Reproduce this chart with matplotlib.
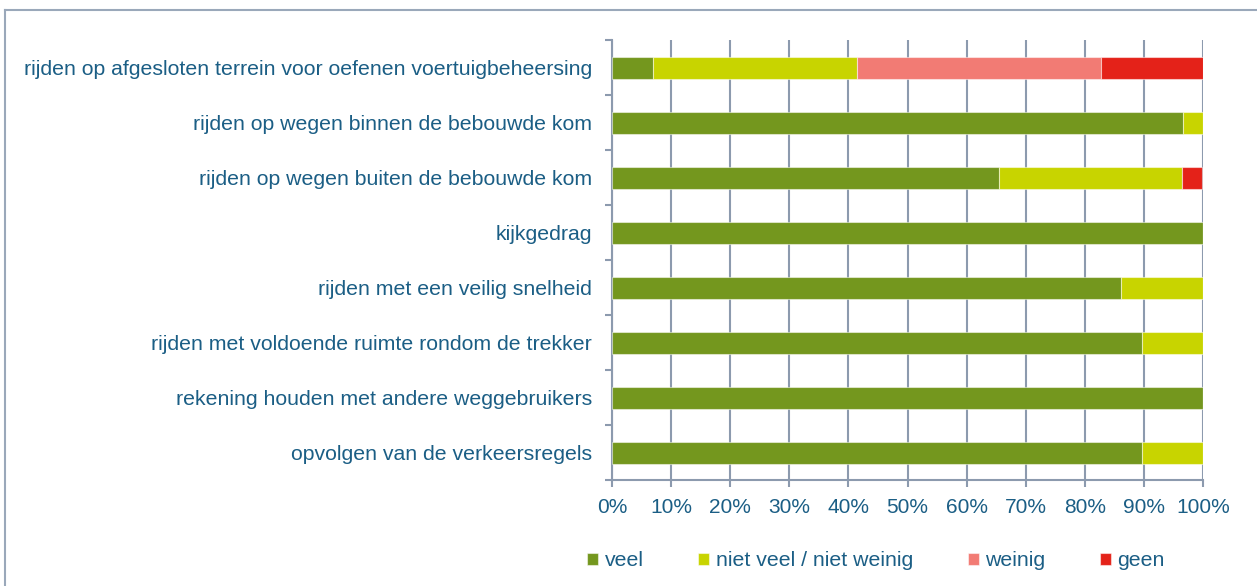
import matplotlib
matplotlib.use('Agg')
import matplotlib.pyplot as plt
from matplotlib.lines import Line2D
import numpy as np

plt.rcParams.update({
    'font.family': ['Liberation Sans', 'DejaVu Sans'],
    'font.size': 15.3,
})

categories = [
    'rijden op afgesloten terrein voor oefenen voertuigbeheersing',
    'rijden op wegen binnen de bebouwde kom',
    'rijden op wegen buiten de bebouwde kom',
    'kijkgedrag',
    'rijden met een veilig snelheid',
    'rijden met voldoende ruimte rondom de trekker',
    'rekening houden met andere weggebruikers',
    'opvolgen van de verkeersregels',
]
series = ['veel', 'niet veel / niet weinig', 'weinig', 'geen']
# share per category (%)
veel = [6.9, 96.6, 65.5, 100.0, 86.2, 89.7, 100.0, 89.7]
niet_veel = [34.5, 3.4, 31.0, 0.0, 13.8, 10.3, 0.0, 10.3]
weinig = [41.4, 0.0, 0.0, 0.0, 0.0, 0.0, 0.0, 0.0]
geen = [17.2, 0.0, 3.4, 0.0, 0.0, 0.0, 0.0, 0.0]

colors = ['#74971E', '#C8D400', '#F27B74', '#E42219']
text_col = '#1B5E85'
grid_col = '#8C9AAE'

fig = plt.figure(figsize=(12.57, 5.86), dpi=100)
ax = fig.add_axes([612 / 1257, 1 - 480 / 586, 591 / 1257, 440 / 586])

y = np.arange(len(categories))
left = np.zeros(len(categories))
for vals, col, name in zip([veel, niet_veel, weinig, geen], colors, series):
    vals = np.array(vals)
    ax.barh(y, vals, left=left, height=0.4, color=col, label=name,
            edgecolor=(1, 1, 1, 0.5), linewidth=0.8, zorder=3)
    left += vals

ax.set_xlim(0, 100)
ax.set_ylim(len(categories) - 0.5, -0.5)
ax.set_xticks(np.arange(0, 101, 10))
ax.set_xticklabels([f'{v}%' for v in range(0, 101, 10)])
ax.set_yticks(y)
ax.set_yticklabels(categories)
ax.set_yticks(np.arange(-0.5, len(categories)), minor=True)
ax.tick_params(axis='y', which='major', length=0, pad=14.5, colors=text_col, labelsize=15.3)
ax.tick_params(axis='y', which='minor', length=5, width=1.5, color=grid_col)
ax.tick_params(axis='x', length=5, width=1.5, color=grid_col, colors=text_col,
               labelsize=15, pad=8)

ax.grid(axis='x', color=grid_col, linewidth=1.5, zorder=0)
ax.set_axisbelow(True)
for s in ['top', 'right']:
    ax.spines[s].set_visible(False)
for s in ['left', 'bottom']:
    ax.spines[s].set_color(grid_col)
    ax.spines[s].set_linewidth(1.5)

leg = fig.legend(loc='center', bbox_to_anchor=(876 / 1257, 1 - 561 / 586), ncol=4,
                 frameon=False, fontsize=15.3, handlelength=0.52, handleheight=0.52,
                 handletextpad=0.3, columnspacing=2.58)
for t in leg.get_texts():
    t.set_color(text_col)

# outer frame (left and top edges)
fig.add_artist(Line2D([5 / 1257, 5 / 1257], [0, 1 - 10 / 586], transform=fig.transFigure,
                      color='#9AA8BA', linewidth=1.5))
fig.add_artist(Line2D([5 / 1257, 1], [1 - 10 / 586, 1 - 10 / 586], transform=fig.transFigure,
                      color='#9AA8BA', linewidth=1.5))

fig.savefig('out.png', dpi=100)
